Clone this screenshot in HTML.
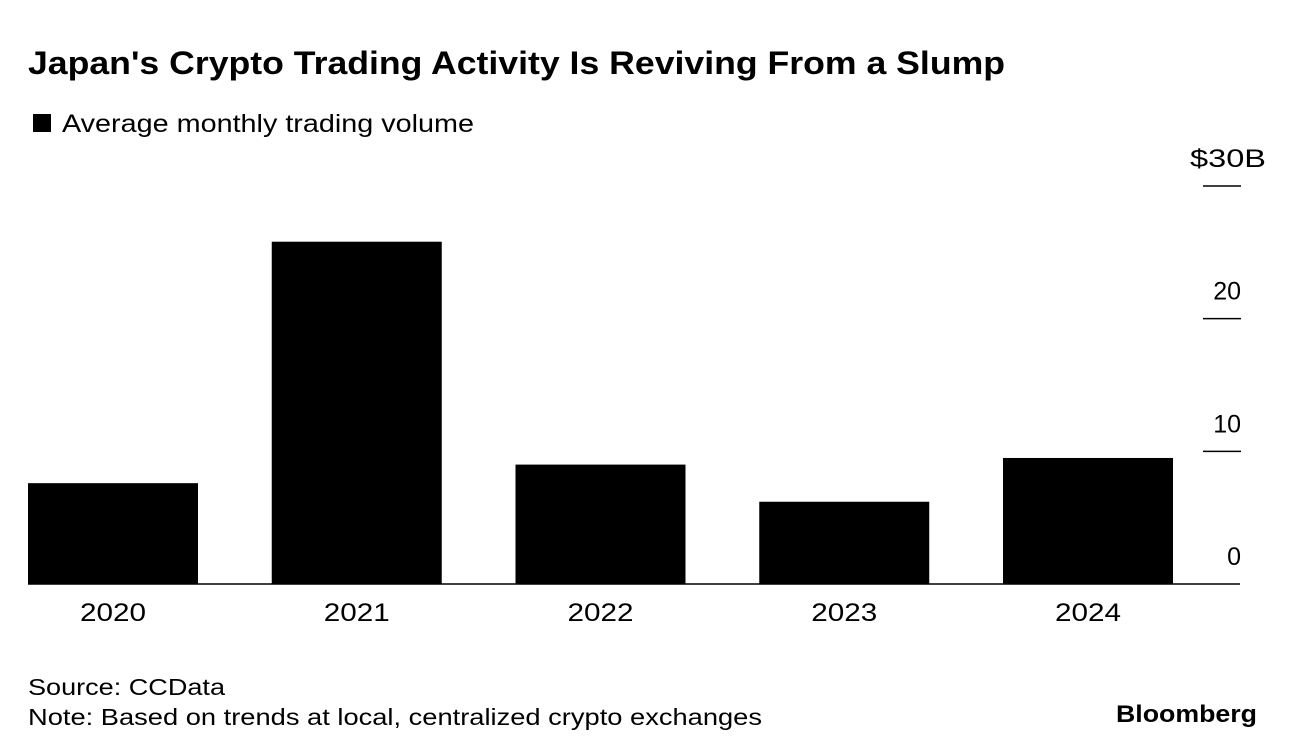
<!DOCTYPE html>
<html><head><meta charset="utf-8"><style>
body{margin:0;background:#fff;font-family:"Liberation Sans",Arial,sans-serif;}
#wrap{position:relative;width:1296px;height:756px;overflow:hidden;}
</style></head><body>
<div id="wrap">
<svg id="chart" width="1296" height="756" xmlns="http://www.w3.org/2000/svg">
<text x="28" y="74" font-size="32" font-weight="bold" fill="#000" textLength="977" lengthAdjust="spacingAndGlyphs">Japan's Crypto Trading Activity Is Reviving From a Slump</text>
<rect x="33" y="114" width="18" height="18" fill="#000"/>
<text x="62" y="132" font-size="25" fill="#000" textLength="412" lengthAdjust="spacingAndGlyphs">Average monthly trading volume</text>
<g id="bars"></g>
<g id="yaxis"></g>
<g id="xaxis"></g>
<line x1="28" x2="1240" y1="584" y2="584" stroke="#000" stroke-width="1.5"/>
<text x="28" y="695" font-size="23" fill="#000" textLength="197" lengthAdjust="spacingAndGlyphs">Source: CCData</text>
<text x="28" y="725" font-size="23" fill="#000" textLength="734" lengthAdjust="spacingAndGlyphs">Note: Based on trends at local, centralized crypto exchanges</text>
<text x="1116" y="722" font-size="24" font-weight="bold" fill="#000" textLength="141" lengthAdjust="spacingAndGlyphs">Bloomberg</text>
</svg>
</div>
<script>
const categories = ["2020","2021","2022","2023","2024"];
const values = [7.6, 25.8, 9.0, 6.2, 9.5];
const yTicks = [0, 10, 20, 30];
const yTickLabels = ["0","10","20","$30B"];

const NS="http://www.w3.org/2000/svg";
const y0=584, yTop=186, yMax=30;
function yScale(v){return y0-(v/yMax)*(y0-yTop);}
const left=28, step=243.75, barW=170;
function xScale(i){return left+i*step;}

const bars=document.getElementById('bars');
values.forEach((v,i)=>{
  const r=document.createElementNS(NS,'rect');
  r.setAttribute('x',xScale(i));
  r.setAttribute('y',yScale(v));
  r.setAttribute('width',barW);
  r.setAttribute('height',y0-yScale(v));
  r.setAttribute('fill','#000');
  
  
  bars.appendChild(r);
  const t=document.createElementNS(NS,'text');
  t.setAttribute('x',xScale(i)+barW/2);
  t.setAttribute('y',621);
  t.setAttribute('font-size','25');
  t.setAttribute('text-anchor','middle');
  t.setAttribute('textLength','66');
  t.setAttribute('lengthAdjust','spacingAndGlyphs');
  t.textContent=categories[i];
  
  
  document.getElementById('xaxis').appendChild(t);
});
const ya=document.getElementById('yaxis');
yTicks.forEach((v,i)=>{
  const y=yScale(v);
  if(v!==0){
    const l=document.createElementNS(NS,'line');
    l.setAttribute('x1',1203);l.setAttribute('x2',1241);
    l.setAttribute('y1',y);l.setAttribute('y2',y);
    l.setAttribute('stroke','#000');l.setAttribute('stroke-width','1.5');
    
    
    ya.appendChild(l);
  }
  const t=document.createElementNS(NS,'text');
  const isTop = i===yTicks.length-1;
  t.setAttribute('x',isTop?1266:1241);t.setAttribute('y',y-19);
  t.setAttribute('font-size','25');t.setAttribute('text-anchor','end');
  if(isTop){t.setAttribute('textLength','76');t.setAttribute('lengthAdjust','spacingAndGlyphs');}
  t.textContent=yTickLabels[i];
  
  
  ya.appendChild(t);
});
</script>
</body></html>
